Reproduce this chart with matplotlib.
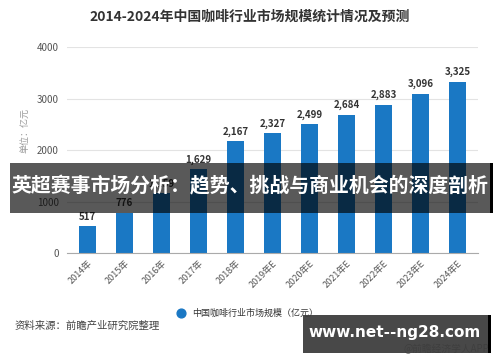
import matplotlib
matplotlib.use("Agg")
import matplotlib.pyplot as plt
from matplotlib.patches import Rectangle

plt.rcParams['font.family'] = ['Noto Sans CJK SC', 'DejaVu Sans']

categories = ["2014年", "2015年", "2016年", "2017年", "2018年", "2019年E", "2020年E",
              "2021年E", "2022年E", "2023年E", "2024年E"]
values = [517, 776, 1159, 1629, 2167, 2327, 2499, 2684, 2883, 3096, 3325]
yticks = [0, 1000, 2000, 3000, 4000]
title = "2014-2024年中国咖啡行业市场规模统计情况及预测"
legend_label = "中国咖啡行业市场规模（亿元）"
ylabel = "单位：亿元"
source = "资料来源：前瞻产业研究院整理"
banner = "英超赛事市场分析：趋势、挑战与商业机会的深度剖析"
site = "www.net--ng28.com"

bar_color = "#1a78c4"

fig = plt.figure(figsize=(5, 3.62), dpi=100)
ax = fig.add_axes([0.134, 0.301, 0.822, 0.569])

x = range(len(categories))
ax.bar(x, values, width=0.44, color=bar_color, zorder=2)
for xi, v in zip(x, values):
    ax.text(xi, v + 90, f"{v:,}", ha='center', va='bottom', fontsize=7,
            fontweight='bold', color='#333333', zorder=3)

ax.set_ylim(0, 4000)
ax.set_xlim(-0.55, len(categories) - 0.45)
ax.set_yticks(yticks)
ax.set_yticklabels([str(t) for t in yticks], fontsize=7, color='#555555')
ax.set_xticks(list(x))
ax.set_xticklabels(categories, rotation=45, ha='right', rotation_mode='anchor',
                   fontsize=6.5, color='#555555')
ax.tick_params(axis='both', length=0, pad=6)
ax.tick_params(axis='x', pad=4)
ax.grid(axis='y', color='#e3e3e3', linewidth=0.8, zorder=0)
for s in ['top', 'right', 'left']:
    ax.spines[s].set_visible(False)
ax.spines['bottom'].set_color('#aaaaaa')
ax.spines['bottom'].set_linewidth(0.8)

fig.text(0.5, 0.953, title, ha='center', va='center', fontsize=10,
         fontweight='bold', color='#333333')
fig.text(0.05, 0.64, ylabel, ha='center', va='center', rotation=90,
         fontsize=6.5, color='#999999')

# legend
ax.scatter([], [], s=40, color=bar_color, label=legend_label)
leg = fig.legend(loc='center', bbox_to_anchor=(0.49, 1 - 313 / 362), frameon=False,
                 fontsize=6.5, handletextpad=0.3, markerscale=1.0)
for t in leg.get_texts():
    t.set_color('#333333')

fig.text(0.03, 1 - 326 / 362, source, ha='left', va='center', fontsize=7.5,
         color='#444444')

# overlay banner
fig.patches.append(Rectangle((0.02, 1 - 213 / 362), 0.964, 50 / 362,
                             transform=fig.transFigure, facecolor='black',
                             alpha=0.65, edgecolor='none', zorder=10))
fig.patches.append(Rectangle((0.98, 1 - 213 / 362), 0.005, 50 / 362,
                             transform=fig.transFigure, facecolor='black',
                             edgecolor='none', zorder=10))
fig.text(0.5, 1 - 186 / 362, banner, ha='center', va='center', fontsize=14.3,
         fontweight='bold', color='white', zorder=11)

# bottom-right box
fig.text(0.978, 1 - 349 / 362, "@前瞻经济学人APP", ha='right', va='center',
         fontsize=7, color='#777777', zorder=9)
fig.patches.append(Rectangle((0.606, 1 - 353 / 362), 0.372, 38 / 362,
                             transform=fig.transFigure, facecolor='#3a3a3a',
                             alpha=0.93, edgecolor='none', zorder=10))
fig.patches.append(Rectangle((0.976, 1 - 353 / 362), 0.005, 38 / 362,
                             transform=fig.transFigure, facecolor='black',
                             edgecolor='none', zorder=10))
fig.text(0.79, 1 - 333 / 362, site, ha='center', va='center', fontsize=11,
         fontweight='bold', color='white', family='DejaVu Sans', zorder=11)

fig.savefig("out.png", dpi=100)
